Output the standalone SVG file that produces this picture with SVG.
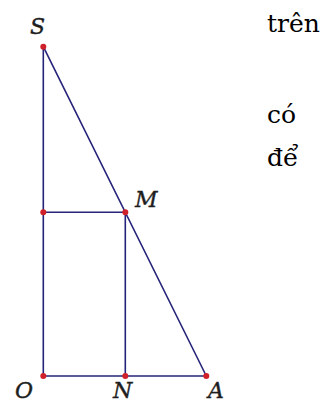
<svg xmlns="http://www.w3.org/2000/svg" width="333" height="404" viewBox="0 0 333 404">
<style>
.ln{stroke:#26247a;stroke-width:1.6;fill:none;stroke-linecap:round}
.pt{fill:#d0202a}
.lb{font-family:'DejaVu Serif',serif;font-style:italic;font-size:22px;fill:#1e1e1e;stroke:#1e1e1e;stroke-width:0.4}
.tx{font-family:'DejaVu Serif',serif;font-size:25px;fill:#000}
</style>
<rect width="333" height="404" fill="#fff"/>
<g id="connectors">
<line class="ln" x1="43.3" y1="46.7" x2="43.3" y2="376"/>
<line class="ln" x1="43.3" y1="376" x2="206.3" y2="376"/>
<line class="ln" x1="43.3" y1="46.7" x2="206.3" y2="376"/>
<line class="ln" x1="43.3" y1="212.3" x2="125.3" y2="212.3"/>
<line class="ln" x1="125.3" y1="212.3" x2="125.3" y2="376"/>
</g>
<g id="S"><circle class="pt" cx="43.3" cy="46.7" r="3"/><text class="lb" x="30" y="34">S</text></g>
<g id="P"><circle class="pt" cx="43.3" cy="212.3" r="3"/></g>
<g id="M"><circle class="pt" cx="125.3" cy="212.3" r="3"/><text class="lb" x="135" y="207">M</text></g>
<g id="O"><circle class="pt" cx="43.3" cy="376" r="3"/><text class="lb" x="15" y="398">O</text></g>
<g id="N"><circle class="pt" cx="125.3" cy="376" r="3"/><text class="lb" x="113" y="398">N</text></g>
<g id="A"><circle class="pt" cx="206.3" cy="376" r="3"/><text class="lb" x="208" y="398">A</text></g>
<g id="text">
<text class="tx" x="267" y="32">trên</text>
<text class="tx" x="267" y="123">có</text>
<text class="tx" x="267" y="166">để</text>
</g>
</svg>
